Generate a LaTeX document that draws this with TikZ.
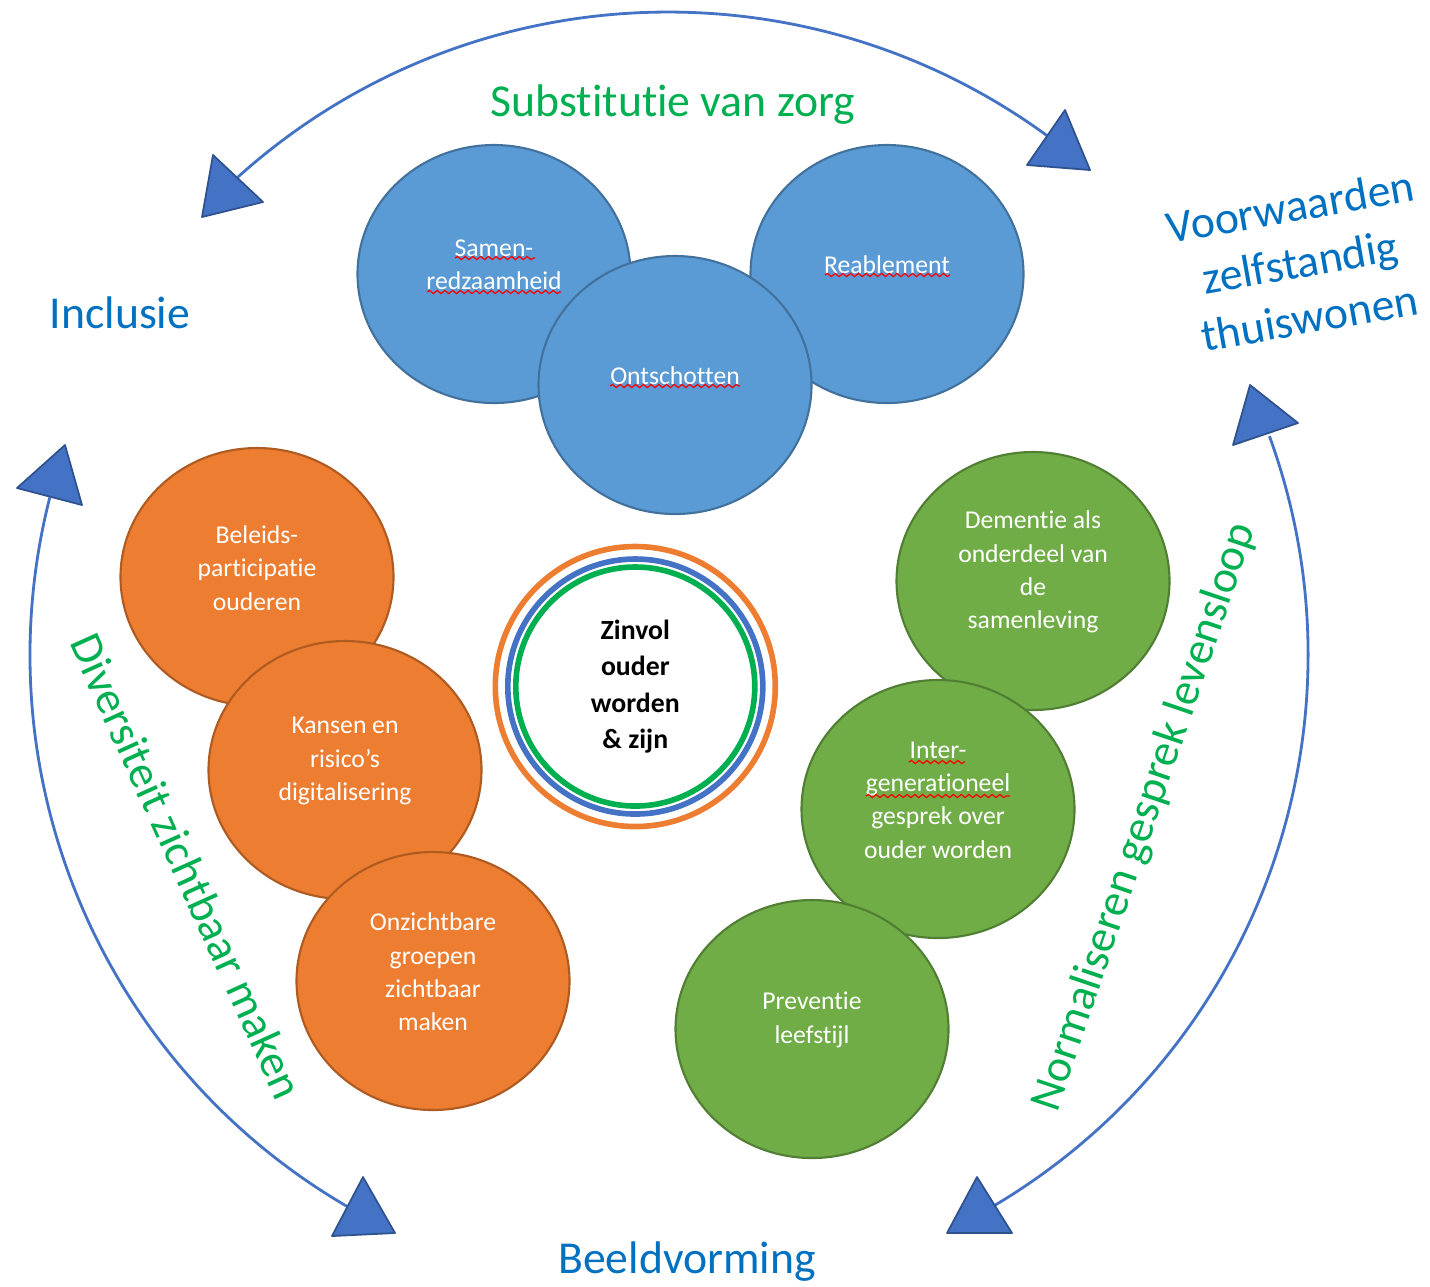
\documentclass[tikz,border=0pt]{standalone}
\usepackage{fontspec}
\setmainfont{Carlito}[Ligatures={TeX,NoCommon}]
\usetikzlibrary{shapes.geometric,decorations.pathmorphing,calc}

\definecolor{bolblauw}{HTML}{5B9BD5}
\definecolor{randblauw}{HTML}{41719C}
\definecolor{bolorje}{HTML}{ED7D31}
\definecolor{randorje}{HTML}{AE5A21}
\definecolor{bolgroen}{HTML}{70AD47}
\definecolor{randgroen}{HTML}{507E32}
\definecolor{pijlblauw}{HTML}{4472C4}
\definecolor{pijlrand}{HTML}{2F528F}
\definecolor{kopgroen}{HTML}{00B050}
\definecolor{kopblauw}{HTML}{0070C0}

\begin{document}
\begin{tikzpicture}[
    bol/.style={ellipse, minimum width=2.73cm, minimum height=2.58cm, inner sep=0pt, line width=0.6pt},
    blauwbol/.style={bol, fill=bolblauw, draw=randblauw},
    orjebol/.style={bol, fill=bolorje, draw=randorje},
    groenbol/.style={bol, fill=bolgroen, draw=randgroen},
    bintekst/.style={text=white, align=center, font=\fontsize{7.3}{9.5}\selectfont},
    kop/.style={align=center, font=\fontsize{13}{16}\selectfont},
    ring/.style={circle, line width=1.6pt, inner sep=0pt},
    boog/.style={pijlblauw, line width=0.8pt},
    punt/.style={fill=pijlblauw, draw=pijlrand, line width=0.5pt, line join=round},
    fout/.style={red, line width=0.35pt, decorate, decoration={snake, amplitude=0.45pt, segment length=2.2pt}}
  ]
  \useasboundingbox (0,0) rectangle (14.3,-12.86);

  % grote cirkel met pijlen
  \coordinate (midden) at (6.68,-6.55);
  \coordinate (boven-l) at ($(midden)+(132:6.43)$);
  \coordinate (rechts-b) at ($(midden)+(20:6.40)$);
  \coordinate (links-b) at ($(midden)+(165.7:6.38)$);
  \draw[boog] (boven-l) arc[start angle=132, end angle=53.9, radius=6.43];
  \draw[boog] (rechts-b) arc[start angle=20, end angle=-59.3, radius=6.40];
  \draw[boog] (links-b) arc[start angle=165.7, end angle=239.9, radius=6.38];

  \filldraw[punt] (2.13,-1.55) -- (2.63,-2.02) -- (2.02,-2.17) -- cycle;
  \filldraw[punt] (10.65,-1.10) -- (10.90,-1.70) -- (10.27,-1.65) -- cycle;
  \filldraw[punt] (12.50,-3.85) -- (12.98,-4.23) -- (12.33,-4.45) -- cycle;
  \filldraw[punt] (9.77,-11.77) -- (10.12,-12.33) -- (9.47,-12.33) -- cycle;
  \filldraw[punt] (3.63,-11.77) -- (3.95,-12.33) -- (3.32,-12.36) -- cycle;
  \filldraw[punt] (0.65,-4.45) -- (0.82,-5.05) -- (0.17,-4.88) -- cycle;

  % titels
  \node[kop, text=kopgroen] (subst) at (6.73,-1.05) {Substitutie van zorg};
  \node[kop, text=kopblauw] (incl) at (1.20,-3.13) {Inclusie};
  \node[kop, text=kopblauw, rotate=10] (voorw) at (13.0,-2.62) {Voorwaarden\\zelfstandig\\thuiswonen};
  \node[kop, text=kopblauw] (beeld) at (6.87,-12.62) {Beeldvorming};
  \node[kop, text=kopgroen, rotate=-65.7] (divers) at (1.87,-8.66) {Diversiteit zichtbaar maken};
  \node[kop, text=kopgroen, rotate=71.3] (normal) at (11.45,-8.17) {Normaliseren gesprek levensloop};

  % blauwe bollen
  \node[blauwbol] (samen) at (4.94,-2.74) {};
  \node[blauwbol] (reable) at (8.87,-2.74) {};
  \node[blauwbol] (ontsch) at (6.75,-3.85) {};
  \node[bintekst] (samen-t) at ($(samen)+(0,0.09)$) {Samen-\\redzaamheid};
  \node[bintekst] (reable-t) at ($(reable)+(0,0.09)$) {Reablement};
  \node[bintekst] (ontsch-t) at ($(ontsch)+(0,0.09)$) {Ontschotten};

  % oranje bollen
  \node[orjebol] (beleid) at (2.57,-5.77) {};
  \node[bintekst] (beleid-t) at ($(beleid)+(0,0.09)$) {Beleids-\\participatie\\ouderen};
  \node[orjebol] (kansen) at (3.45,-7.70) {};
  \node[bintekst] (kansen-t) at ($(kansen)+(0,0.09)$) {Kansen en\\risico’s\\digitalisering};
  \node[orjebol] (onzicht) at (4.33,-9.81) {};
  \node[bintekst] (onzicht-t) at ($(onzicht)+(0,0.09)$) {Onzichtbare\\groepen\\zichtbaar\\maken};

  % groene bollen
  \node[groenbol] (dement) at (10.33,-5.81) {};
  \node[bintekst] (dement-t) at ($(dement)+(0,0.09)$) {Dementie als\\onderdeel van\\de\\samenleving};
  \node[groenbol] (inter) at (9.38,-8.09) {};
  \node[bintekst] (inter-t) at ($(inter)+(0,0.09)$) {Inter-\\generationeel\\gesprek over\\ouder worden};
  \node[groenbol] (prevent) at (8.12,-10.29) {};
  \node[bintekst] (prevent-t) at ($(prevent)+(0,0.09)$) {Preventie\\leefstijl};

  % kern
  \node[ring, draw=bolorje, minimum size=2.80cm] (ring-o) at (6.353,-6.865) {};
  \node[ring, draw=pijlblauw, minimum size=2.55cm] (ring-b) at (ring-o) {};
  \node[ring, draw=kopgroen, minimum size=2.39cm] (ring-g) at (ring-o) {};
  \node[align=center, font=\fontsize{7.9}{10.3}\selectfont\bfseries] (kern) at (ring-o) {Zinvol\\ouder\\worden\\\& zijn};

  % spellingslijntjes
  \draw[fout] (4.55,-2.58) -- (5.35,-2.58);
  \draw[fout] (4.27,-2.92) -- (5.61,-2.92);
  \draw[fout] (6.10,-3.86) -- (7.40,-3.86);
  \draw[fout] (8.25,-2.75) -- (9.50,-2.75);
  \draw[fout] (9.09,-7.62) -- (9.65,-7.62);
  \draw[fout] (8.66,-7.96) -- (10.10,-7.96);
\end{tikzpicture}
\end{document}
